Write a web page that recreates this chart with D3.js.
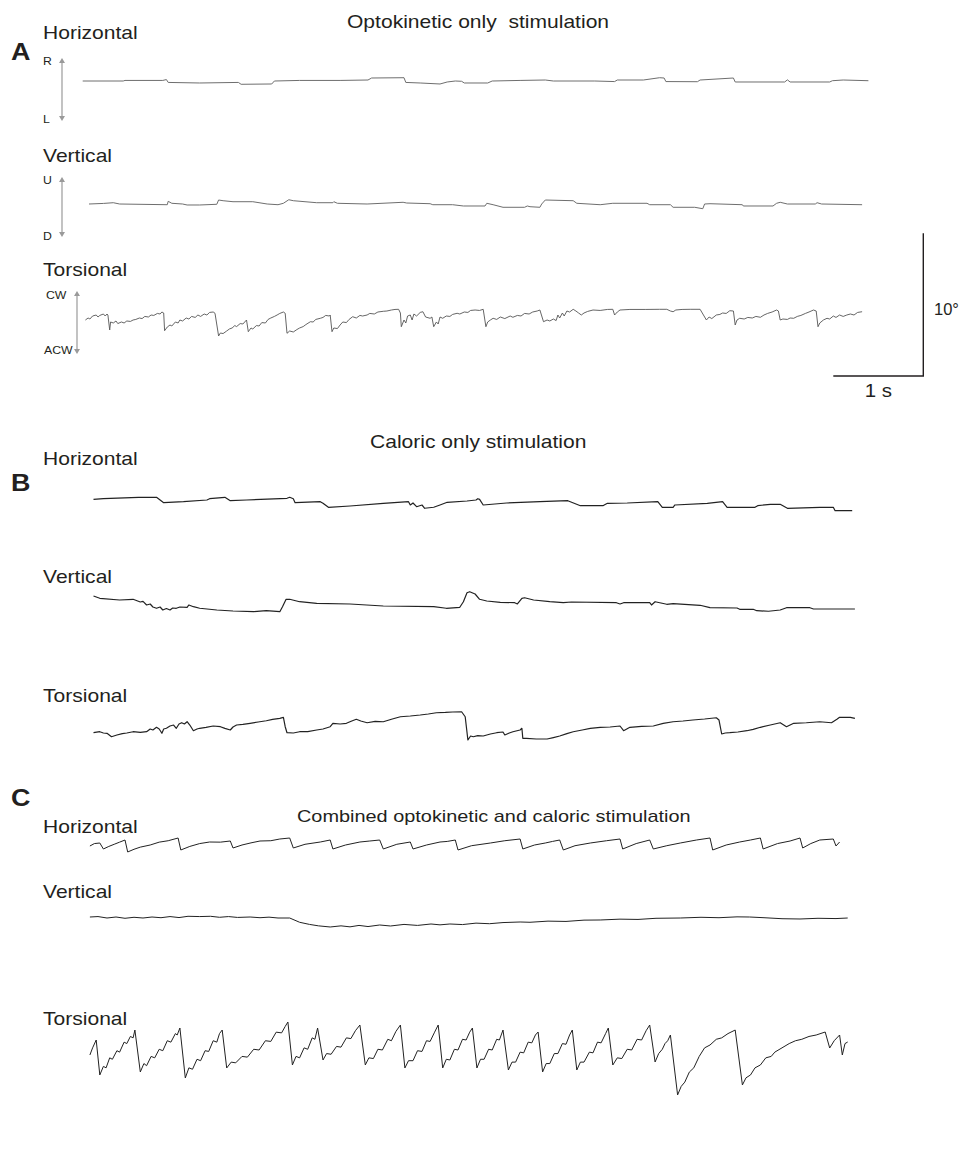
<!DOCTYPE html>
<html>
<head>
<meta charset="utf-8">
<script src="https://cdn.jsdelivr.net/npm/d3@7"></script>
<style>
  body { margin: 0; background: #fff; }
  text { font-family: "Liberation Sans", Arial, sans-serif; fill: #231f20; }
</style>
</head>
<body>
<div id="chart"></div>
<script>
// eye position traces, [time (s), position (deg)]
// A: optokinetic only
var aHorizontal = [[0.03,0],[0.48,0],[0.5,0.04],[0.92,0.04],[0.96,0.1],[0.98,-0.1],[1.33,-0.14],[1.76,-0.1],[1.79,-0.23],[2.13,-0.21],[2.16,0],[2.44,0.04],[2.89,0.04],[3.2,0.07],[3.24,0.21],[3.6,0.23],[3.62,-0.1],[3.78,-0.14],[4.0,-0.21],[4.08,-0.07],[4.17,0],[4.24,-0.02],[4.27,-0.14],[4.53,-0.14],[4.58,0],[4.89,0.04],[5.17,0.07],[5.26,0],[5.72,0],[5.94,-0.04],[5.97,0.07],[6.26,0.07],[6.44,0.23],[6.49,0.21],[6.51,-0.04],[6.86,-0.05],[6.89,0.07],[7.26,0.21],[7.28,-0.07],[7.83,-0.07],[7.86,0.08],[7.89,-0.07],[8.33,-0.07],[8.36,0.02],[8.48,0.07],[8.76,0.02]];
var aVertical = [[0.1,0],[0.26,0.04],[0.37,0.09],[0.44,0],[0.97,-0.05],[0.98,0.19],[1.02,0.05],[1.14,0],[1.19,-0.07],[1.33,-0.07],[1.52,-0.02],[1.54,0.28],[1.59,0.23],[1.7,0.16],[1.92,0.16],[2.08,0],[2.2,-0.05],[2.26,0.05],[2.32,0.3],[2.37,0.23],[2.63,0.09],[2.81,0.09],[2.82,0.16],[2.86,0.05],[3.19,0],[3.59,0.12],[3.63,0.07],[3.89,0.02],[3.92,-0.05],[4.14,-0.05],[4.26,-0.14],[4.5,-0.14],[4.52,0.05],[4.59,-0.05],[4.7,-0.23],[4.94,-0.23],[4.97,-0.14],[5.0,-0.19],[5.11,-0.23],[5.13,0],[5.17,0.28],[5.48,0.23],[5.52,0.05],[5.78,-0.05],[5.92,0.05],[6.3,0.05],[6.33,-0.05],[6.56,-0.05],[6.59,-0.23],[6.83,-0.23],[6.92,-0.33],[6.94,0],[7.0,0.02],[7.36,-0.05],[7.37,-0.14],[7.7,-0.14],[7.74,0.05],[7.78,0.12],[7.86,0],[8.17,0],[8.19,0.09],[8.24,0],[8.69,-0.05]];
var aTorsional = [[0.06,0],[0.09,0.14],[0.11,0.07],[0.14,0.28],[0.18,0.35],[0.2,0.21],[0.22,0.32],[0.26,0.42],[0.28,0.28],[0.3,0.42],[0.31,0.35],[0.33,-0.7],[0.34,-0.14],[0.37,-0.21],[0.4,-0.07],[0.42,-0.25],[0.46,-0.14],[0.49,-0.21],[0.52,-0.07],[0.56,-0.1],[0.59,0],[0.62,0.04],[0.66,0.14],[0.69,0.1],[0.72,0.25],[0.76,0.21],[0.79,0.35],[0.82,0.32],[0.86,0.46],[0.89,0.42],[0.91,0.56],[0.93,0.49],[0.94,-0.75],[0.97,-0.49],[1.0,-0.35],[1.02,-0.42],[1.06,-0.14],[1.09,-0.21],[1.11,0],[1.14,-0.07],[1.18,0.14],[1.21,0.07],[1.24,0.25],[1.28,0.18],[1.31,0.35],[1.34,0.25],[1.38,0.42],[1.41,0.35],[1.44,0.53],[1.48,0.56],[1.5,0.47],[1.54,-1.12],[1.56,-0.91],[1.59,-0.95],[1.63,-0.77],[1.66,-0.63],[1.69,-0.56],[1.72,-0.39],[1.74,-0.46],[1.78,-0.25],[1.81,-0.28],[1.85,0],[1.87,-0.82],[1.9,-0.56],[1.92,-0.63],[1.96,-0.39],[1.99,-0.42],[2.02,-0.18],[2.06,-0.21],[2.09,0.04],[2.12,0.14],[2.16,0.25],[2.19,0.35],[2.22,0.46],[2.26,0.56],[2.28,0.47],[2.3,-0.93],[2.33,-0.77],[2.37,-0.84],[2.41,-0.67],[2.44,-0.56],[2.48,-0.46],[2.51,-0.32],[2.56,-0.12],[2.59,-0.14],[2.62,0.04],[2.67,0.12],[2.7,0.18],[2.73,0.32],[2.77,0.28],[2.78,0.35],[2.8,-0.82],[2.82,-0.56],[2.86,-0.6],[2.89,-0.35],[2.92,-0.14],[2.96,-0.18],[2.99,0.04],[3.03,0.23],[3.07,0.14],[3.11,0.32],[3.14,0.28],[3.19,0.35],[3.22,0.46],[3.27,0.42],[3.31,0.56],[3.37,0.61],[3.41,0.63],[3.46,0.7],[3.5,0.74],[3.54,0.75],[3.56,0.49],[3.57,-0.47],[3.6,0],[3.62,-0.21],[3.64,0.28],[3.67,0.35],[3.69,0],[3.71,0.42],[3.74,0.28],[3.78,0.53],[3.81,0.58],[3.84,0.21],[3.89,0.12],[3.91,0.21],[3.93,-0.47],[3.96,-0.14],[3.98,-0.28],[4.0,0.21],[4.03,0.12],[4.07,0.28],[4.11,0.25],[4.14,0.39],[4.19,0.47],[4.22,0.42],[4.27,0.56],[4.31,0.53],[4.34,0.67],[4.39,0.7],[4.44,0.67],[4.48,0.75],[4.51,-0.47],[4.53,-0.14],[4.56,0],[4.59,0.12],[4.63,0.04],[4.67,0.21],[4.72,0.1],[4.78,0.28],[4.81,0.19],[4.86,0.32],[4.9,0.28],[4.94,0.46],[4.99,0.42],[5.03,0.56],[5.08,0.63],[5.11,0.7],[5.15,-0.12],[5.19,0],[5.22,-0.07],[5.26,0.07],[5.29,-0.04],[5.31,0.35],[5.33,0.14],[5.36,0.49],[5.38,0.28],[5.41,0.63],[5.44,0.56],[5.48,0.75],[5.51,0.63],[5.54,0.49],[5.57,0.35],[5.6,0.49],[5.64,0.6],[5.7,0.7],[5.78,0.67],[5.86,0.74],[5.92,0.75],[5.94,0.35],[5.97,0.56],[6.0,0.7],[6.11,0.74],[6.28,0.74],[6.44,0.75],[6.52,0.75],[6.56,0.63],[6.59,0.58],[6.62,0.7],[6.69,0.74],[6.78,0.75],[6.89,0.75],[6.96,0],[6.99,0.21],[7.02,0.1],[7.07,0.35],[7.11,0.39],[7.14,0.49],[7.18,0.46],[7.22,0.65],[7.26,0.63],[7.28,-0.35],[7.3,0],[7.33,0.12],[7.38,0.07],[7.42,0.18],[7.47,0.14],[7.51,0.25],[7.56,0.19],[7.6,0.35],[7.64,0.46],[7.69,0.56],[7.74,0.7],[7.76,0.63],[7.78,0],[7.81,0.07],[7.86,0.04],[7.89,0.14],[7.93,0.12],[7.97,0.25],[8.01,0.32],[8.06,0.46],[8.1,0.56],[8.15,0.7],[8.18,0.63],[8.2,-0.47],[8.22,-0.21],[8.26,0],[8.3,0.12],[8.33,0.07],[8.37,0.28],[8.4,0.18],[8.44,0.35],[8.48,0.25],[8.52,0.35],[8.56,0.42],[8.6,0.35],[8.64,0.53],[8.69,0.58]];

// B: caloric only
var bHorizontal = [[0.15,0.05],[0.26,0.09],[0.65,0.19],[0.85,0.19],[0.93,-0.19],[1.15,-0.12],[1.41,0],[1.44,0.09],[1.61,0.19],[1.67,-0.05],[1.85,0],[2.3,0.12],[2.33,0.19],[2.37,0.09],[2.39,-0.19],[2.67,-0.12],[2.7,-0.23],[2.76,-0.51],[3.0,-0.42],[3.37,-0.23],[3.65,-0.12],[3.67,-0.35],[3.7,-0.21],[3.74,-0.47],[3.8,-0.35],[3.83,-0.58],[3.93,-0.51],[4.0,-0.35],[4.08,-0.16],[4.3,-0.07],[4.4,0],[4.42,0.09],[4.44,0.04],[4.48,-0.35],[4.74,-0.21],[5.11,-0.12],[5.42,-0.05],[5.56,-0.4],[5.81,-0.4],[5.86,-0.23],[6.08,-0.21],[6.42,-0.12],[6.47,-0.51],[6.59,-0.51],[6.61,-0.35],[6.97,-0.23],[7.14,-0.12],[7.19,-0.51],[7.5,-0.51],[7.53,-0.4],[7.67,-0.3],[7.78,-0.3],[7.86,-0.58],[8.22,-0.51],[8.37,-0.51],[8.39,-0.75],[8.58,-0.75]];
var bVertical = [[0.15,0.28],[0.22,0.12],[0.44,0],[0.59,0.05],[0.67,-0.14],[0.7,-0.1],[0.74,-0.35],[0.78,-0.28],[0.81,-0.49],[0.85,-0.58],[0.89,-0.49],[0.92,-0.7],[0.96,-0.6],[1.0,-0.7],[1.03,-0.56],[1.07,-0.58],[1.11,-0.49],[1.19,-0.51],[1.21,-0.35],[1.26,-0.47],[1.33,-0.58],[1.52,-0.7],[1.7,-0.77],[1.93,-0.82],[2.07,-0.75],[2.22,-0.82],[2.25,-0.47],[2.29,0.05],[2.33,0.05],[2.44,-0.12],[2.63,-0.23],[3.0,-0.28],[3.37,-0.42],[3.93,-0.47],[4.07,-0.58],[4.22,-0.51],[4.26,-0.12],[4.3,0.51],[4.33,0.58],[4.39,0.42],[4.44,0.05],[4.52,-0.07],[4.67,-0.16],[4.83,-0.19],[4.86,-0.28],[4.91,0.12],[4.94,0.16],[5.04,0],[5.22,-0.12],[5.37,-0.19],[5.46,-0.14],[5.96,-0.19],[6.0,-0.28],[6.04,-0.19],[6.33,-0.19],[6.35,-0.35],[6.39,-0.12],[6.52,-0.3],[6.59,-0.26],[6.89,-0.37],[7.0,-0.54],[7.3,-0.56],[7.33,-0.65],[7.48,-0.65],[7.52,-0.75],[7.65,-0.79],[7.78,-0.7],[7.85,-0.54],[8.11,-0.54],[8.15,-0.63],[8.61,-0.63]];
var bTorsional = [[0.15,0.02],[0.22,0.09],[0.26,0],[0.3,-0.02],[0.35,-0.26],[0.41,-0.14],[0.47,-0.04],[0.52,0],[0.59,0.09],[0.67,0.04],[0.74,0.09],[0.78,0.28],[0.81,0.21],[0.85,0.4],[0.88,0.28],[0.91,-0.02],[0.93,0.28],[0.96,0.33],[1.0,0.49],[1.04,0.56],[1.07,0.33],[1.1,0.63],[1.13,0.72],[1.16,0.63],[1.19,0.79],[1.22,0.56],[1.26,0.16],[1.3,0.28],[1.33,0.33],[1.4,0.39],[1.48,0.49],[1.56,0.44],[1.61,0.32],[1.67,0.21],[1.7,0.42],[1.74,0.56],[1.81,0.6],[1.89,0.68],[1.98,0.77],[2.07,0.86],[2.14,0.95],[2.22,1.03],[2.26,1.1],[2.28,0.44],[2.3,0.02],[2.37,0],[2.44,0.09],[2.53,0.1],[2.63,0.21],[2.7,0.28],[2.78,0.44],[2.81,0.68],[2.89,0.63],[2.96,0.68],[3.02,0.84],[3.07,0.96],[3.12,0.84],[3.19,0.72],[3.28,0.81],[3.37,0.79],[3.47,0.98],[3.56,1.14],[3.67,1.19],[3.78,1.26],[3.87,1.33],[3.96,1.42],[4.06,1.44],[4.14,1.47],[4.24,1.49],[4.28,1.14],[4.31,-0.49],[4.34,-0.21],[4.37,-0.26],[4.42,-0.18],[4.48,-0.21],[4.56,-0.07],[4.63,0.02],[4.7,0.07],[4.72,-0.14],[4.77,0],[4.81,0.09],[4.89,0.21],[4.91,0.33],[4.92,-0.37],[4.96,-0.37],[5.07,-0.42],[5.19,-0.42],[5.26,-0.32],[5.33,-0.21],[5.41,-0.04],[5.48,0.09],[5.58,0.21],[5.67,0.33],[5.78,0.39],[5.89,0.42],[6.0,0.49],[6.04,0.16],[6.11,0.4],[6.24,0.46],[6.37,0.49],[6.48,0.67],[6.59,0.79],[6.7,0.84],[6.81,0.91],[6.94,0.98],[7.07,1.07],[7.1,0.91],[7.13,-0.07],[7.17,0],[7.22,0.02],[7.31,0.07],[7.41,0.16],[7.48,0.25],[7.56,0.4],[7.67,0.56],[7.78,0.72],[7.85,0.44],[7.93,0.68],[8.07,0.72],[8.22,0.79],[8.35,0.72],[8.41,0.96],[8.44,1.1],[8.56,1.1],[8.61,1.03]];

// C: combined optokinetic and caloric
var cHorizontal = [[0.11,-0.07],[0.16,0.1],[0.22,0.14],[0.26,-0.28],[0.32,-0.1],[0.38,0.05],[0.44,0.2],[0.5,0.35],[0.53,-0.49],[0.6,-0.3],[0.67,-0.15],[0.78,0],[0.88,0.2],[0.98,0.3],[1.09,0.49],[1.12,-0.35],[1.22,-0.1],[1.33,0.1],[1.44,0.21],[1.56,0.2],[1.67,0.28],[1.7,-0.21],[1.8,0],[1.9,0.15],[2.0,0.28],[2.12,0.3],[2.22,0.42],[2.33,0.49],[2.37,-0.21],[2.5,0.05],[2.67,0.21],[2.78,0.35],[2.81,-0.28],[2.95,0],[3.11,0.21],[3.22,0.28],[3.33,0.35],[3.37,-0.28],[3.52,0.05],[3.67,0.21],[3.7,-0.28],[3.85,0],[4.0,0.21],[4.08,0.25],[4.17,0.35],[4.2,-0.35],[4.35,-0.05],[4.56,0.14],[4.72,0.3],[4.89,0.42],[4.92,-0.28],[5.05,0],[5.17,0.14],[5.25,0.25],[5.33,0.35],[5.37,-0.35],[5.5,-0.05],[5.67,0.14],[5.85,0.3],[6.0,0.42],[6.03,-0.28],[6.18,0.1],[6.33,0.35],[6.37,-0.28],[6.52,-0.05],[6.67,0.14],[6.85,0.35],[7.0,0.49],[7.03,-0.35],[7.18,0],[7.33,0.21],[7.45,0.35],[7.56,0.49],[7.59,-0.28],[7.75,0.1],[7.89,0.28],[8.0,0.49],[8.03,-0.21],[8.12,0.1],[8.22,0.35],[8.37,0.42],[8.4,-0.07],[8.44,0.21]];
var cVertical = [[0.11,0.07],[0.2,0.1],[0.3,0],[0.4,0.07],[0.5,-0.02],[0.6,0.05],[0.7,0],[0.8,0.07],[0.9,0.02],[1.0,0.1],[1.1,0.03],[1.2,0.12],[1.33,0.1],[1.45,0.12],[1.55,0.05],[1.65,0.1],[1.75,0.04],[1.89,0.07],[2.0,0.02],[2.1,0.06],[2.2,0],[2.33,0],[2.44,-0.3],[2.55,-0.45],[2.65,-0.55],[2.78,-0.63],[2.9,-0.55],[3.0,-0.62],[3.1,-0.52],[3.2,-0.6],[3.33,-0.49],[3.45,-0.56],[3.6,-0.45],[3.75,-0.52],[3.9,-0.42],[4.0,-0.48],[4.11,-0.42],[4.25,-0.46],[4.4,-0.36],[4.55,-0.4],[4.7,-0.32],[4.89,-0.28],[5.0,-0.3],[5.2,-0.22],[5.4,-0.24],[5.6,-0.15],[5.78,-0.14],[6.0,-0.08],[6.2,-0.1],[6.4,-0.02],[6.67,0],[6.9,0.05],[7.1,0.02],[7.3,0.08],[7.44,0.07],[7.6,0.02],[7.8,-0.05],[8.0,-0.07],[8.2,-0.02],[8.4,-0.04],[8.53,0]];
var cTorsional = [[0.11,-0.7],[0.14,-0.2],[0.18,0.35],[0.22,-2.1],[0.26,-1.5],[0.29,-1.6],[0.33,-0.9],[0.36,-1.0],[0.41,-0.4],[0.44,-0.5],[0.49,0.2],[0.52,0.1],[0.56,0.6],[0.59,0.5],[0.61,1.05],[0.67,-1.89],[0.71,-1.3],[0.74,-1.45],[0.79,-0.8],[0.83,-0.9],[0.88,-0.3],[0.92,-0.4],[0.97,0.3],[1.01,0.2],[1.06,0.8],[1.08,0.7],[1.11,1.19],[1.17,-2.31],[1.21,-1.6],[1.25,-1.7],[1.3,-1.0],[1.34,-1.1],[1.39,-0.4],[1.43,-0.45],[1.48,0.3],[1.52,0.2],[1.55,0.8],[1.58,1.05],[1.63,-1.61],[1.68,-1.2],[1.73,-1.25],[1.8,-0.8],[1.86,-0.85],[1.93,-0.3],[1.99,-0.35],[2.06,0.3],[2.12,0.25],[2.18,0.9],[2.24,0.85],[2.28,1.3],[2.31,1.61],[2.36,-1.4],[2.4,-0.8],[2.44,-0.9],[2.49,-0.2],[2.53,-0.3],[2.58,0.5],[2.61,0.4],[2.64,1.19],[2.7,-1.05],[2.74,-0.6],[2.79,-0.65],[2.85,-0.1],[2.9,-0.15],[2.96,0.5],[3.01,0.45],[3.06,1.0],[3.11,1.4],[3.17,-1.4],[3.21,-0.9],[3.26,-0.95],[3.31,-0.3],[3.36,-0.35],[3.42,0.4],[3.46,0.3],[3.51,0.95],[3.56,1.4],[3.61,-1.61],[3.65,-1.1],[3.7,-1.1],[3.75,-0.4],[3.8,-0.45],[3.85,0.3],[3.89,0.25],[3.94,0.9],[3.98,1.4],[4.03,-1.61],[4.07,-1.0],[4.11,-1.05],[4.16,-0.3],[4.2,-0.35],[4.25,0.4],[4.29,0.35],[4.33,0.9],[4.36,1.19],[4.41,-1.61],[4.45,-1.0],[4.49,-1.0],[4.54,-0.3],[4.58,-0.35],[4.63,0.4],[4.66,0.35],[4.7,1.05],[4.76,-1.75],[4.8,-1.2],[4.84,-1.2],[4.89,-0.5],[4.93,-0.55],[4.98,0.2],[5.02,0.15],[5.06,0.7],[5.09,0.91],[5.14,-1.89],[5.18,-1.3],[5.22,-1.3],[5.27,-0.6],[5.31,-0.6],[5.36,0.1],[5.4,0.05],[5.44,0.7],[5.47,1.05],[5.52,-1.75],[5.56,-1.2],[5.6,-1.2],[5.66,-0.5],[5.7,-0.55],[5.75,0.2],[5.79,0.15],[5.84,0.8],[5.87,1.19],[5.92,-1.4],[5.97,-0.9],[6.02,-0.95],[6.08,-0.3],[6.13,-0.35],[6.19,0.4],[6.24,0.35],[6.29,1.0],[6.33,1.4],[6.39,-1.19],[6.43,-0.6],[6.47,-0.3],[6.5,0.1],[6.53,0.3],[6.56,0.7],[6.64,-3.5],[6.68,-2.9],[6.72,-2.6],[6.77,-1.9],[6.82,-1.6],[6.88,-0.8],[6.94,-0.2],[7.0,0],[7.07,0.4],[7.13,0.5],[7.2,0.8],[7.28,1.05],[7.36,-2.8],[7.4,-2.3],[7.45,-2.1],[7.5,-1.6],[7.56,-1.4],[7.62,-0.9],[7.68,-0.8],[7.72,-0.5],[7.8,-0.2],[7.88,0.1],[7.95,0.3],[8.02,0.4],[8.1,0.6],[8.18,0.7],[8.28,0.91],[8.33,-0.21],[8.38,0.3],[8.44,0.7],[8.47,-0.7],[8.5,0.1],[8.53,0.21]];

var panelLetters = ["A", "B", "C"];
var panelTitles = ["Optokinetic only  stimulation", "Caloric only stimulation", "Combined optokinetic and caloric stimulation"];
var traceNames = ["Horizontal", "Vertical", "Torsional"];
var directionLabels = [["R", "L"], ["U", "D"], ["CW", "ACW"]];
var scaleBar = { seconds: 1, degrees: 10 };

var width = 962, height = 1155;
var sx = 1.17; // the figure's lettering is a little wide

var svg = d3.select("#chart").append("svg")
  .attr("width", width)
  .attr("height", height)

var x = d3.scaleLinear().domain([0, 1]).range([80, 170])
var pxPerDeg = 14.27

function yFor(base) {
  return d3.scaleLinear().domain([0, 1]).range([base, base - pxPerDeg])
}

function label(txt, px, py, size, weight, stretch) {
  return svg.append("text")
    .text(txt)
    .attr("transform", "translate(" + px + "," + py + ") scale(" + (stretch || sx) + ",1)")
    .attr("font-size", size)
    .attr("font-weight", weight || "normal")
    .style("white-space", "pre")
}

function arrow(px, y1, y2) {
  svg.append("line")
    .attr("x1", px).attr("x2", px)
    .attr("y1", y1 + 3).attr("y2", y2 - 3)
    .attr("stroke", "#9a9a9a")
    .attr("stroke-width", 1.2)
  svg.append("path")
    .attr("d", "M" + (px - 3) + "," + (y1 + 5) + "L" + px + "," + y1 + "L" + (px + 3) + "," + (y1 + 5) + "Z")
    .attr("fill", "#9a9a9a")
  svg.append("path")
    .attr("d", "M" + (px - 3) + "," + (y2 - 5) + "L" + px + "," + y2 + "L" + (px + 3) + "," + (y2 - 5) + "Z")
    .attr("fill", "#9a9a9a")
}

// traces
var traces = [
  { data: aHorizontal, base: 81, color: "#6e6e6e", w: 1 },
  { data: aVertical, base: 204, color: "#6e6e6e", w: 1 },
  { data: aTorsional, base: 320, color: "#555", w: 0.9 },
  { data: bHorizontal, base: 500, color: "#222", w: 1.2 },
  { data: bVertical, base: 600, color: "#222", w: 1.2 },
  { data: bTorsional, base: 733, color: "#222", w: 1.2 },
  { data: cHorizontal, base: 845, color: "#222", w: 1 },
  { data: cVertical, base: 918, color: "#222", w: 1 },
  { data: cTorsional, base: 1045, color: "#222", w: 1 }
]

traces.forEach(function (tr) {
  var y = yFor(tr.base)
  var line = d3.line().x(d => x(d[0])).y(d => y(d[1]))
  svg.append("path")
    .datum(tr.data)
    .attr("d", line)
    .attr("fill", "none")
    .attr("stroke", tr.color)
    .attr("stroke-width", tr.w)
    .attr("stroke-linejoin", "round")
})

// panel letters and titles
var letterPos = [[11, 60], [11, 491], [11, 806]]
var titlePos = [[347, 27.5, 18], [370, 448, 18], [297, 822, 17]]
panelLetters.forEach(function (p, i) {
  label(p, letterPos[i][0], letterPos[i][1], 23, "bold")
  label(panelTitles[i], titlePos[i][0], titlePos[i][1], titlePos[i][2])
})

// trace names
var nameY = [[39, 162, 276], [465, 583, 702], [833, 898, 1025]]
nameY.forEach(function (row) {
  row.forEach(function (py, j) {
    label(traceNames[j], 43, py, 18)
  })
})

// direction arrows (panel A only)
var arrowPos = [[62, 58, 121], [62, 177, 237], [77, 291, 354]]
var dirLabelPos = [[[43, 65], [43, 122.5]], [[43, 183.5], [43, 239.5]], [[46, 298.5], [44, 354]]]
arrowPos.forEach(function (a, i) {
  arrow(a[0], a[1], a[2])
  label(directionLabels[i][0], dirLabelPos[i][0][0], dirLabelPos[i][0][1], 10.5)
  label(directionLabels[i][1], dirLabelPos[i][1][0], dirLabelPos[i][1][1], 10.5)
})

// scale bar: 1 s and 10 deg
var barY = yFor(376)
var bx0 = 8.37
svg.append("path")
  .attr("d", "M" + x(bx0) + "," + barY(0) + "H" + x(bx0 + scaleBar.seconds) + "V" + barY(scaleBar.degrees))
  .attr("fill", "none")
  .attr("stroke", "#231f20")
  .attr("stroke-width", 1.4)
label(scaleBar.degrees + "°", 934, 315, 16.5, "normal", 1)
svg.append("text")
  .text(scaleBar.seconds + " s")
  .attr("transform", "translate(" + x(bx0 + scaleBar.seconds / 2) + ",397) scale(" + sx + ",1)")
  .attr("font-size", 17.5)
  .attr("text-anchor", "middle")
</script>
</body>
</html>
